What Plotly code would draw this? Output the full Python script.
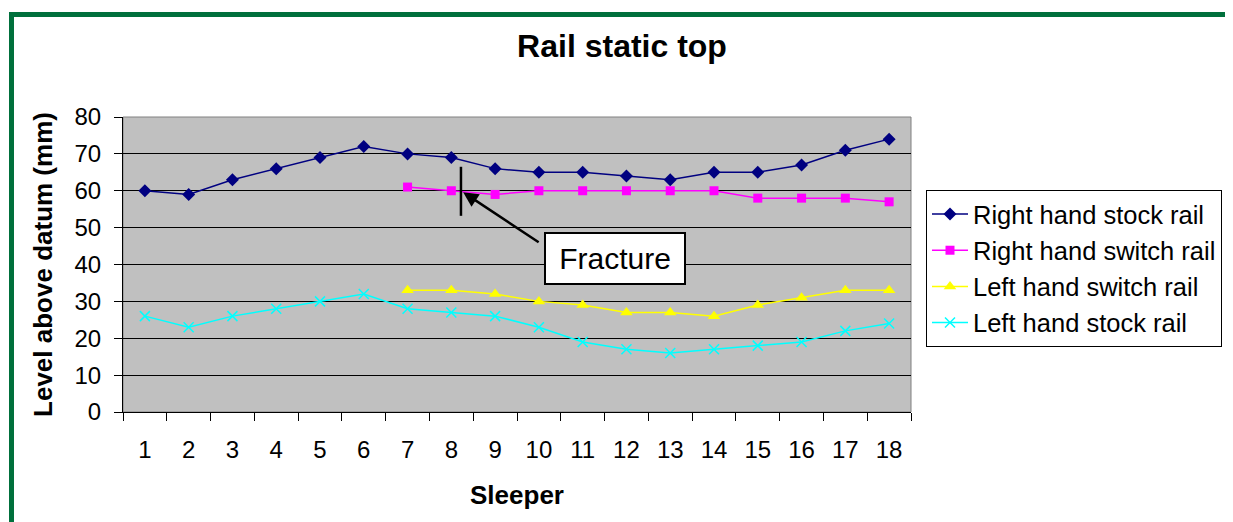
import plotly.graph_objects as go

sleepers = [str(i) for i in range(1, 19)]
rh_stock = [60, 59, 63, 66, 69, 72, 70, 69, 66, 65, 65, 64, 63, 65, 65, 67, 71, 74]
rh_switch_x = [str(i) for i in range(7, 19)]
rh_switch = [61, 60, 59, 60, 60, 60, 60, 60, 58, 58, 58, 57]
lh_switch_x = [str(i) for i in range(7, 19)]
lh_switch = [33, 33, 32, 30, 29, 27, 27, 26, 29, 31, 33, 33]
lh_stock = [26, 23, 26, 28, 30, 32, 28, 27, 26, 23, 19, 17, 16, 17, 18, 19, 22, 24]
y_ticks = [0, 10, 20, 30, 40, 50, 60, 70, 80]

# page has an 8px body margin; work in page pixels and convert
OFF = 8
W, H = 1233 - OFF, 522 - OFF
PL, PR, PT, PB = 123, 911, 117, 412          # plot area in page pixels
ML, MT = PL - OFF, PT - OFF
MR, MB = W - (PR - OFF), H - (PB - OFF)
PW, PH = PR - PL, PB - PT

def px_x(px):
    return (px - PL) / PW

def px_y(py):
    return (PB - py) / PH

FONT = "Liberation Sans, Arial, sans-serif"

fig = go.Figure()
series = [
    ("Right hand stock rail", sleepers, rh_stock, "#000080", dict(symbol="diamond", size=10)),
    ("Right hand switch rail", rh_switch_x, rh_switch, "#FF00FF", dict(symbol="square", size=9)),
    ("Left hand switch rail", lh_switch_x, lh_switch, "#FFFF00", dict(symbol="triangle-up", size=11)),
    ("Left hand stock rail", sleepers, lh_stock, "#00FFFF", dict(symbol="x-thin-open", size=10, line=dict(width=1.5, color="#00FFFF"))),
]
for i, (name, xs, ys, col, mk) in enumerate(series):
    mk = dict(mk)
    mk["color"] = col
    fig.add_trace(go.Scatter(
        x=xs, y=ys, name=name, mode="lines+markers",
        line=dict(color=col, width=1.5), marker=mk,
        legendgroup=f"g{i}",
    ))

green = "#00703C"
shapes = [
    dict(type="rect", xref="paper", yref="paper", x0=0, x1=1, y0=0, y1=1,
         line=dict(color="#808080", width=1), layer="below"),
    dict(type="line", xref="paper", yref="paper", x0=px_x(11.5), x1=px_x(11.5),
         y0=px_y(12), y1=px_y(560), line=dict(color=green, width=5)),
    dict(type="line", xref="paper", yref="paper", x0=px_x(9), x1=px_x(1260),
         y0=px_y(14.5), y1=px_y(14.5), line=dict(color=green, width=5)),
    dict(type="line", xref="x", yref="y", x0=7.22, x1=7.22, y0=53.2, y1=66.5,
         line=dict(color="black", width=2.5)),
]

annotations = [
    dict(x=7.27, y=59.6, xref="x", yref="y", text="", showarrow=True,
         ax=77, ay=51, arrowhead=2, arrowsize=1.2, arrowwidth=2.5, arrowcolor="black"),
    dict(x=10.74, y=41.6, xref="x", yref="y", text="Fracture", showarrow=False,
         font=dict(family=FONT, size=30, color="black"),
         bgcolor="white", bordercolor="black", borderwidth=2, borderpad=6,
         width=126, height=37),
]

fig.update_layout(
    width=W, height=H,
    margin=dict(l=ML, r=MR, t=MT, b=MB, autoexpand=False),
    paper_bgcolor="white", plot_bgcolor="#C0C0C0",
    font=dict(family=FONT, color="black", size=22),
    title=dict(text="<b>Rail static top</b>", x=(622 - OFF) / W, xanchor="center",
               y=1 - (46 - OFF) / H, yanchor="middle", yref="container",
               font=dict(size=32, family=FONT, color="black")),
    xaxis=dict(type="category", tickson="boundaries", ticks="outside", ticklen=8,
               tickcolor="black", showline=True, linecolor="black", linewidth=1,
               showgrid=False, tickfont=dict(size=24), ticklabelstandoff=16,
               range=[-0.5, 17.5],
               title=dict(text="<b>Sleeper</b>", font=dict(size=26), standoff=24)),
    yaxis=dict(range=[0, 80], tickvals=y_ticks, ticks="outside", ticklen=8,
               tickcolor="black", showline=True, linecolor="black", linewidth=1,
               showgrid=True, gridcolor="black", gridwidth=1, zeroline=False,
               tickfont=dict(size=24), ticklabelstandoff=8,
               title=dict(text="<b>Level above datum (mm)</b>", font=dict(size=26), standoff=14)),
    legend=dict(x=px_x(926), y=px_y(190), xanchor="left", yanchor="top",
                bgcolor="white", bordercolor="black", borderwidth=1,
                font=dict(size=25.5), tracegroupgap=0, traceorder="grouped",
                itemwidth=36),
    shapes=shapes, annotations=annotations,
    showlegend=True,
)

fig.write_html("out.html")
